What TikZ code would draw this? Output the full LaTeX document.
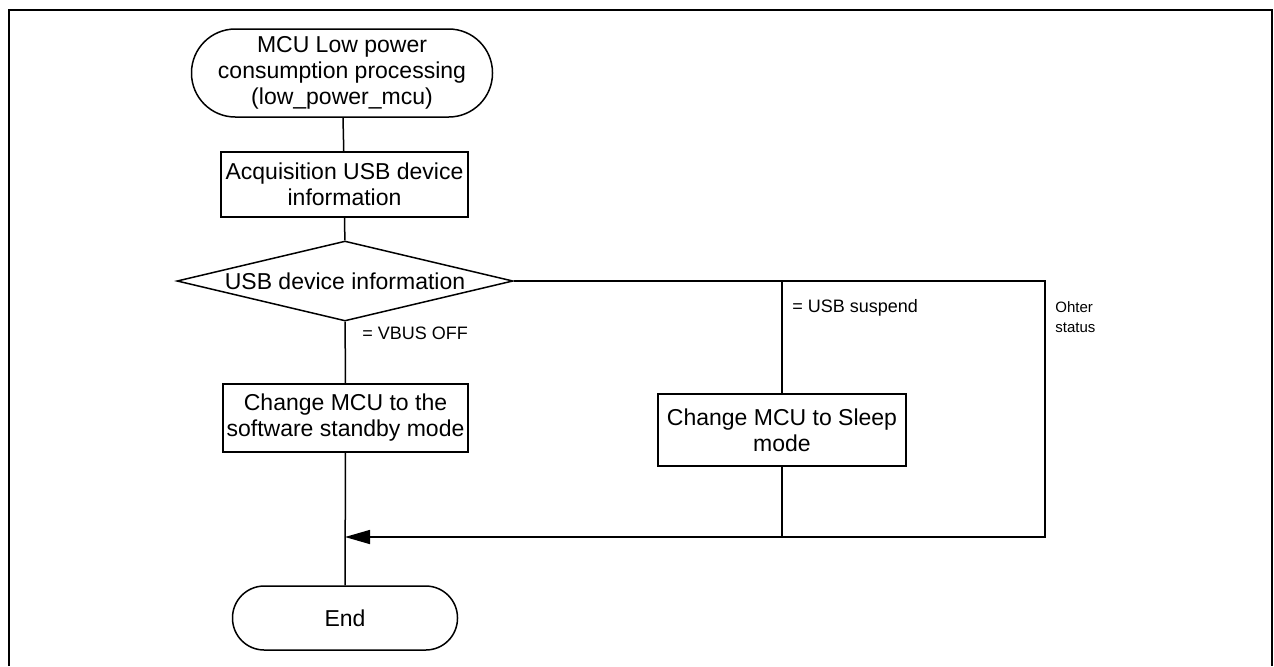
\documentclass[tikz,border=0pt]{standalone}
\usepackage{fontspec}
\setmainfont{Liberation Sans}
\usetikzlibrary{shapes.geometric,arrows.meta}
\begin{document}
\begin{tikzpicture}[x=0.5pt,y=-0.5pt,
  conn/.style={line width=0.75pt},
  proc/.style={draw,line width=0.75pt,rectangle,align=center,inner sep=0pt,font=\fontsize{11.5}{13}\selectfont},
  term/.style={draw,line width=0.75pt,rectangle,align=center,inner sep=0pt,font=\fontsize{11.5}{13}\selectfont},
  decision/.style={draw,line width=0.75pt,diamond,aspect=4.2,inner sep=0pt,font=\fontsize{11.5}{13}\selectfont},
  lbl/.style={anchor=west,inner sep=0pt,font=\fontsize{9}{10}\selectfont},
  smalllbl/.style={anchor=north west,inner sep=0pt,align=left,font=\fontsize{7.5}{10}\selectfont}]
\useasboundingbox (0,0) rectangle (1274,666);
% frame
\draw[line width=1.1pt] (9,666) -- (9,10) -- (1272,10) -- (1272,666);
% nodes
\node[term, minimum width=150.5pt, minimum height=44pt, rounded corners=21.9pt] (start) at (342,73) {MCU Low power\\consumption processing\\(low\_power\_mcu)};
\node[proc, minimum width=123.5pt, minimum height=32.5pt] (acq) at (344.5,184.5) {Acquisition USB device\\information};
\node[decision, minimum width=168pt, minimum height=40pt] (dec) at (345,281) {USB device information};
\node[proc, minimum width=122.5pt, minimum height=34pt] (stby) at (345.5,418) {Change MCU to the\\software standby mode};
\node[proc, minimum width=124pt, minimum height=36pt] (sleep) at (782,430) {Change MCU to Sleep\\mode};
\node[term, minimum width=112.5pt, minimum height=32pt, rounded corners=15.9pt] (end) at (345,618) {End};
% labels
\node[lbl] (lv) at (362,333) {= VBUS OFF};
\node[lbl] (ls) at (792,308) {= USB suspend};
\node[smalllbl] (lo) at (1055,301) {Ohter\\status};
% coordinates
\coordinate (c1) at (782,281);
\coordinate (c2) at (1045,281);
\coordinate (c3) at (1045,537);
\coordinate (c4) at (782,537);
\coordinate (c5) at (345,537);
% connectors
\draw[conn] (start) -- (acq);
\draw[conn] (acq) -- (dec);
\draw[conn] (dec) -- (stby);
\draw[conn] (stby) -- (end);
\draw[conn] (dec.east) -- (c1) -- (c2) -- (c3) -- (c4);
\draw[conn] (c1) -- (sleep.north);
\draw[conn] (sleep.south) -- (c4);
\draw[conn,-{Triangle[length=12.5pt,width=7pt]}] (c4) -- (c5);
\end{tikzpicture}
\end{document}
